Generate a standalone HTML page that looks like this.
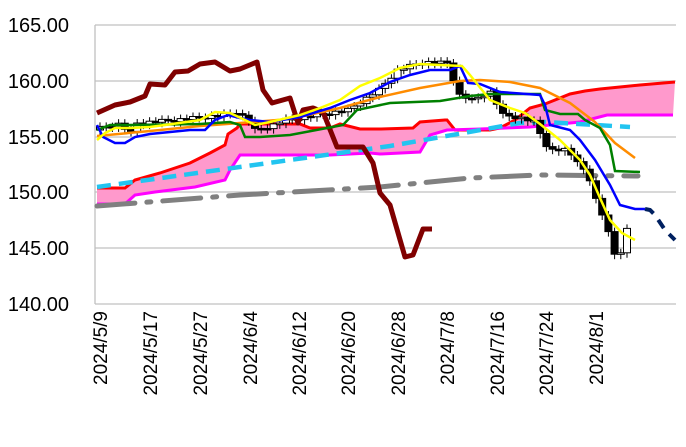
<!DOCTYPE html>
<html><head><meta charset="utf-8"><style>
html,body{margin:0;padding:0;background:#fff;}
svg{display:block;font-family:"Liberation Sans",sans-serif;}
</style></head><body>
<svg id="s" width="686" height="447" viewBox="0 0 686 447">
<g stroke="#c0c0c0" stroke-width="1.3">
<line x1="95" y1="25" x2="676" y2="25"/>
<line x1="95" y1="81" x2="676" y2="81"/>
<line x1="95" y1="137" x2="676" y2="137"/>
<line x1="95" y1="192" x2="676" y2="192"/>
<line x1="95" y1="248" x2="676" y2="248"/>
<line x1="95" y1="304" x2="676" y2="304"/>
<line x1="95" y1="25" x2="95" y2="304"/>
</g>
<g font-size="20" fill="#000" text-anchor="end">
<text x="69" y="32">165.00</text>
<text x="69" y="88">160.00</text>
<text x="69" y="144">155.00</text>
<text x="69" y="199">150.00</text>
<text x="69" y="255">145.00</text>
<text x="69" y="311">140.00</text>
</g>
<g font-size="19" fill="#000" text-anchor="end">
<text transform="translate(107,311) rotate(-90)">2024/5/9</text>
<text transform="translate(157,311) rotate(-90)">2024/5/17</text>
<text transform="translate(207,311) rotate(-90)">2024/5/27</text>
<text transform="translate(257,311) rotate(-90)">2024/6/4</text>
<text transform="translate(306,311) rotate(-90)">2024/6/12</text>
<text transform="translate(355,311) rotate(-90)">2024/6/20</text>
<text transform="translate(405,311) rotate(-90)">2024/6/28</text>
<text transform="translate(454,311) rotate(-90)">2024/7/8</text>
<text transform="translate(504,311) rotate(-90)">2024/7/16</text>
<text transform="translate(553,311) rotate(-90)">2024/7/24</text>
<text transform="translate(603,311) rotate(-90)">2024/8/1</text>
</g>
<polygon fill="#ff99cc" points="97,188 125,188 135,180 160,173 190,163 210,153 225,145 228,134 237,128 240,124 300,124 310,128 330,128 340,124 360,129 380,129 413,128 420,122 445,120 447,120 455,130 490,130 500,128 515,120 530,108 545,104 555,100 570,94 585,91 600,89 620,87 640,85 675,82 673,115 607,115 580,122 530,127 480,129 447,130 430,135 420,152 380,154 370,153 330,155 248,155 240,155 230,170 225,180 195,187 155,192 135,195 125,204 97,204"/>
<polyline fill="none" stroke="#ff0000" stroke-width="3" points="97,188 125,188 135,180 160,173 190,163 210,153 225,145 228,134 237,128 240,124 300,124 310,128 330,128 340,124 360,129 380,129 413,128 420,122 445,120 447,120 455,130 490,130 500,128 515,120 530,108 545,104 555,100 570,94 585,91 600,89 620,87 640,85 675,82"/>
<polyline fill="none" stroke="#ff00ff" stroke-width="3" points="97,204 125,204 135,195 155,192 195,187 225,180 230,170 240,155 248,155 330,155 370,153 380,154 420,152 430,135 447,130 480,129 530,127 580,122 607,115 673,115"/>
<polyline fill="none" stroke="#808080" stroke-width="5" stroke-dasharray="38,12,4,12" stroke-linecap="round" points="97,206 240,195 380,187 470,178 540,175 638,176"/>
<polyline fill="none" stroke="#22c4f0" stroke-width="4.5" stroke-dasharray="14,8" points="97,187 390,146 520,123 545,122 630,127"/>
<g id="c"></g>
<polyline fill="none" stroke="#800000" stroke-width="5" stroke-linejoin="round" points="97,113 115,105 130,102 145,96 150,84 165,85 175,72 188,71 200,64 215,62 230,71 240,69 257,62 263,90 272,103 290,98 298,123 303,110 313,108 323,112 337,147 363,147 373,163 380,193 390,205 405,257 413,255 423,229 432,229"/>
<polyline fill="none" stroke="#ff8c00" stroke-width="2.5" points="97,136 150,131 200,126 240,123 290,119 340,108 380,97 420,88 460,81 480,80 510,82 540,88 570,103 595,122 615,143 635,158"/>
<polyline fill="none" stroke="#008000" stroke-width="2.5" points="97,130 110,125 130,125 200,124 230,122 240,125 245,137 260,137 290,135 343,125 357,110 390,103 440,101 470,96 490,94 540,94 545,110 560,114 578,114 585,120 600,128 610,145 615,171 640,172"/>
<polyline fill="none" stroke="#0000ff" stroke-width="2.5" points="97,125 103,137 115,143 125,143 135,137 150,134 190,130 205,130 215,120 228,115 240,118 250,120 270,122 300,117 330,108 350,100 370,93 390,82 410,75 430,70 450,70 460,66 468,83 480,84 500,92 540,95 545,105 550,125 570,130 580,140 595,160 610,185 620,205 635,209 645,209"/>
<polyline fill="none" stroke="#002060" stroke-width="4" stroke-dasharray="10,8" points="645,209 650,210 655,215 665,230 675,240"/>
<polyline fill="none" stroke="#ffff00" stroke-width="2.5" points="97,140 105,133 115,128 130,128 150,127 165,125 200,120 215,112 230,113 245,120 255,125 270,122 300,115 320,108 340,100 360,86 380,78 400,68 420,64 440,65 462,66 470,75 490,100 510,108 525,113 540,124 560,140 580,160 590,175 600,198 610,220 622,233 635,240"/>
</svg>
<script>
var k=[[0,128],[3,124],[5,133],[6,123],[12,120],[20,115],[22,112],[24,120],[25,130],[27,127],[30,120],[40,110],[45,90],[48,70],[52,62],[56,63],[58,95],[60,100],[63,92],[65,115],[68,118],[70,122],[72,145],[73,150],[75,150],[77,160],[79,180],[80,200],[82,230],[83,255],[84,252],[85,230]];
function v(i){for(var j=0;j<k.length-1;j++){if(i>=k[j][0]&&i<=k[j+1][0]){var t=(i-k[j][0])/(k[j+1][0]-k[j][0]);return k[j][1]+t*(k[j+1][1]-k[j][1]);}}return k[k.length-1][1];}
var g=document.getElementById('c'),s='',p=v(0)+2;
for(var i=0;i<=85;i++){var c=v(i)+((i*7)%5-2)*0.8,x=100+6.2*i,t=Math.min(p,c),b=Math.max(p,c),h=Math.max(b-t,1.5);
s+='<line x1="'+x+'" x2="'+x+'" y1="'+(t-4)+'" y2="'+(b+5)+'" stroke="#000" stroke-width="1"/>';
s+='<rect x="'+(x-3.5)+'" y="'+t+'" width="7" height="'+h+'" fill="'+(c>p?'#000':'#fff')+'" stroke="#000" stroke-width="1"/>';p=c;}
g.innerHTML=s;
</script>
</body></html>
